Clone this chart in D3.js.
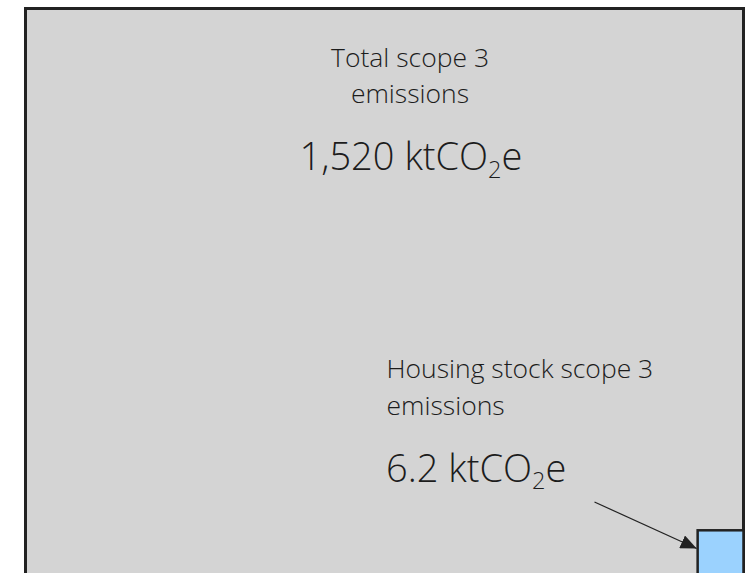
<!DOCTYPE html>
<html>
<head>
<meta charset="utf-8">
<script src="https://cdn.jsdelivr.net/npm/d3@7"></script>
<style>
  html, body { margin: 0; padding: 0; background: #fff; }
  svg { display: block; }
  text { font-family: "Open Sans", Lato, sans-serif; font-weight: 300; fill: #1c1c1c; }
</style>
</head>
<body>
<script>
// Emission totals, drawn as nested squares whose areas scale with the value
const categories = ["Total scope 3 emissions", "Housing stock scope 3 emissions"];
const titleLines = [["Total scope 3", "emissions"], ["Housing stock scope 3", "emissions"]];
const values = [1520, 6.2];
const valueLabels = ["1,520", "6.2"];
const unitParts = ["ktCO", "2", "e"];
const fills = ["#d4d4d4", "#9bd2fe"];

const W = 749, H = 573;
const svg = d3.select("body").append("svg").attr("width", W).attr("height", H);

// square side is proportional to sqrt(value), so area tracks the value
const side = d3.scaleSqrt().domain([0, d3.max(values)]).range([0, 718]);

const outer = { x: 25.5, y: 8.5 };
const bigSide = side(values[0]);
const smallSide = side(values[1]);

// large square
svg.append("rect")
  .attr("x", outer.x).attr("y", outer.y)
  .attr("width", bigSide).attr("height", bigSide)
  .attr("fill", fills[0]).attr("stroke", "#222").attr("stroke-width", 3);

// small square, tucked against the right edge of the large one
const small = { x: outer.x + bigSide - smallSide, y: 530.3 };
svg.append("rect")
  .attr("x", small.x).attr("y", small.y)
  .attr("width", smallSide).attr("height", smallSide)
  .attr("fill", fills[1]).attr("stroke", "#222").attr("stroke-width", 2.5);

// arrow pointing at the small square
svg.append("defs").append("marker")
  .attr("id", "head")
  .attr("viewBox", "0 0 16 14")
  .attr("refX", 16).attr("refY", 7)
  .attr("markerWidth", 16).attr("markerHeight", 14)
  .attr("markerUnits", "userSpaceOnUse")
  .attr("orient", "auto")
  .append("path").attr("d", "M0,0L16,7L0,14Z").attr("fill", "#222");

svg.append("line")
  .attr("x1", 594.5).attr("y1", 502)
  .attr("x2", small.x - 1).attr("y2", 548.5)
  .attr("stroke", "#222").attr("stroke-width", 1.2)
  .attr("marker-end", "url(#head)");

function valueText(g, x, y, anchor, i, size) {
  const t = g.append("text")
    .attr("x", x).attr("y", y)
    .attr("text-anchor", anchor)
    .attr("font-size", size);
  t.append("tspan").text(valueLabels[i] + " " + unitParts[0]);
  t.append("tspan").attr("font-size", size * 0.62).attr("dy", size * 0.2).text(unitParts[1]);
  t.append("tspan").attr("dy", -size * 0.2).text(unitParts[2]);
}

// label for the total
const gTotal = svg.append("g");
titleLines[0].forEach((line, k) => {
  gTotal.append("text")
    .attr("x", 410).attr("y", 66.5 + k * 36.7)
    .attr("text-anchor", "middle")
    .attr("font-size", 26.5)
    .text(line);
});
valueText(gTotal, 411, 170, "middle", 0, 38);

// label for the housing stock
const gHouse = svg.append("g");
titleLines[1].forEach((line, k) => {
  gHouse.append("text")
    .attr("x", 386.5).attr("y", 378.3 + k * 36.7)
    .attr("font-size", 26.5)
    .text(line);
});
valueText(gHouse, 386, 481.5, "start", 1, 38);
</script>
</body>
</html>
